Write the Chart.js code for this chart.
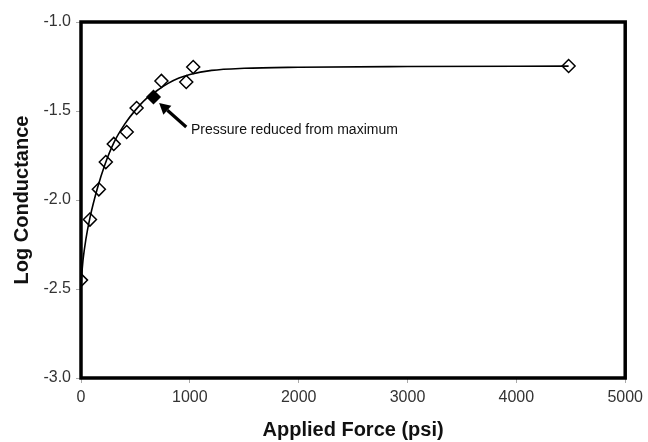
<!DOCTYPE html>
<html>
<head>
<meta charset="utf-8">
<script src="https://cdn.jsdelivr.net/npm/chart.js@4.4.1/dist/chart.umd.min.js"></script>
<style>
  html, body { margin: 0; padding: 0; background: #fff; }
  #wrap { width: 648px; height: 442px; }
</style>
</head>
<body>
<div id="wrap"><canvas id="chart" width="648" height="442"></canvas></div>
<script>
// Measured conductance vs applied force
const forcePsi       = [0, 82, 164, 228, 301, 420, 511, 666, 739, 967, 1031, 4480];
const logConductance = [-2.45, -2.11, -1.94, -1.787, -1.685, -1.618, -1.483, -1.421, -1.331, -1.337, -1.253, -1.247];
// true where the reading was taken after the pressure was reduced from its maximum
const reducedFromMax = [false, false, false, false, false, false, false, true, false, false, false, false];

// Fitted trend curve, sampled
const curveForce = [0, 20, 45, 82, 150, 220, 300, 400, 500, 600, 700, 800, 900, 1000, 1200, 1500, 2000, 3000, 4480];
const curveLog   = [-2.47, -2.33, -2.22, -2.10, -1.935, -1.80, -1.68, -1.575, -1.495, -1.43, -1.385, -1.345, -1.315, -1.295, -1.272, -1.26, -1.254, -1.25, -1.248];

const xTicks = [0, 1000, 2000, 3000, 4000, 5000];
const yTicks = [-3.0, -2.5, -2.0, -1.5, -1.0];

const noteText = 'Pressure reduced from maximum';
const noteArrowFrom = { x: 967, y: -1.59 };
const noteArrowTo   = { x: 718, y: -1.455 };
const noteTextAt    = { x: 1010, y: -1.61 };

const FONT = '"Liberation Sans", Arial, sans-serif';

// Heavy frame around the plotting area
const frame = {
  id: 'frame',
  afterDraw(chart) {
    const { ctx, chartArea: a } = chart;
    ctx.save();
    ctx.strokeStyle = '#000';
    ctx.lineWidth = 3.5;
    ctx.strokeRect(a.left, a.top, a.right - a.left, a.bottom - a.top);
    ctx.restore();
  }
};

// Arrow with caption pointing at the reduced-pressure reading
const callout = {
  id: 'callout',
  afterDatasetsDraw(chart) {
    const { ctx, scales: { x, y } } = chart;
    const x0 = x.getPixelForValue(noteArrowFrom.x), y0 = y.getPixelForValue(noteArrowFrom.y);
    const x1 = x.getPixelForValue(noteArrowTo.x),   y1 = y.getPixelForValue(noteArrowTo.y);
    const ang = Math.atan2(y1 - y0, x1 - x0);
    const head = 11, half = 6;
    const bx = x1 - head * Math.cos(ang), by = y1 - head * Math.sin(ang);
    ctx.save();
    ctx.strokeStyle = '#000';
    ctx.fillStyle = '#000';
    ctx.lineWidth = 3.2;
    ctx.beginPath();
    ctx.moveTo(x0, y0);
    ctx.lineTo(bx, by);
    ctx.stroke();
    ctx.beginPath();
    ctx.moveTo(x1, y1);
    ctx.lineTo(bx + half * Math.sin(ang), by - half * Math.cos(ang));
    ctx.lineTo(bx - half * Math.sin(ang), by + half * Math.cos(ang));
    ctx.closePath();
    ctx.fill();
    ctx.font = '14px ' + FONT;
    ctx.fillStyle = '#111';
    ctx.textBaseline = 'middle';
    ctx.textAlign = 'left';
    ctx.fillText(noteText, x.getPixelForValue(noteTextAt.x), y.getPixelForValue(noteTextAt.y));
    ctx.restore();
  }
};

const points = forcePsi.map((f, i) => ({ x: f, y: logConductance[i] }));
const curve = curveForce.map((f, i) => ({ x: f, y: curveLog[i] }));

new Chart(document.getElementById('chart'), {
  type: 'scatter',
  data: {
    datasets: [
      {
        label: 'Trend',
        data: curve,
        showLine: true,
        borderColor: '#000',
        borderWidth: 1.6,
        pointRadius: 0,
        cubicInterpolationMode: 'monotone',
        order: 0
      },
      {
        label: 'Log Conductance',
        data: points,
        pointStyle: 'rectRot',
        pointRadius: 6.5,
        pointBorderWidth: 1.5,
        pointBorderColor: '#000',
        pointBackgroundColor: reducedFromMax.map(r => r ? '#000' : '#fff'),
        order: 1
      }
    ]
  },
  options: {
    responsive: false,
    animation: false,
    layout: { padding: { top: 22, right: 19, left: 0, bottom: 0 } },
    plugins: { legend: { display: false }, tooltip: { enabled: false } },
    scales: {
      x: {
        type: 'linear',
        min: 0, max: 5000,
        afterBuildTicks: s => { s.ticks = xTicks.map(v => ({ value: v })); },
        afterFit: s => { s.height = 64; },
        grid: { drawOnChartArea: false, drawTicks: true, tickLength: 5, color: '#aaa' },
        border: { display: false },
        ticks: {
          padding: 5,
          color: '#333',
          font: { family: FONT, size: 16 },
          callback: v => String(v)
        },
        title: {
          display: true,
          text: 'Applied Force (psi)',
          color: '#111',
          font: { family: FONT, size: 20, weight: 'bold' },
          padding: { top: 0, bottom: 0 }
        }
      },
      y: {
        type: 'linear',
        min: -3.0, max: -1.0,
        afterBuildTicks: s => { s.ticks = yTicks.map(v => ({ value: v })); },
        afterFit: s => { s.width = 81; },
        grid: { drawOnChartArea: false, drawTicks: true, tickLength: 5, color: '#aaa' },
        border: { display: false },
        ticks: {
          padding: 5,
          color: '#333',
          font: { family: FONT, size: 16 },
          callback: v => v.toFixed(1)
        },
        title: {
          display: true,
          text: 'Log Conductance',
          color: '#111',
          font: { family: FONT, size: 20, weight: 'bold' },
          padding: { top: 10, bottom: 0 }
        }
      }
    }
  },
  plugins: [frame, callout]
});
</script>
</body>
</html>
